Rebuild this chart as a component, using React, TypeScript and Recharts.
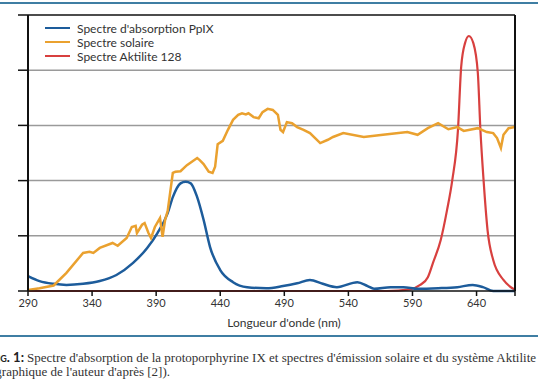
import React from "react";
import { LineChart, Line, XAxis, YAxis, ReferenceLine } from "recharts";

// wavelength (nm) / relative level
const solarNm = [290, 299, 310, 320, 333, 338, 341, 346, 356, 360, 367, 371, 374, 375, 379, 381, 384, 386, 389, 393, 395, 397, 399, 403, 405, 409, 414, 422, 424, 427, 431, 434, 436, 438, 442, 446, 450, 454, 457, 460, 462, 466, 470, 473, 477, 481, 485, 487, 489, 492, 496, 500, 505, 510, 518, 524, 528, 536, 552, 567, 586, 594, 602, 610, 618, 625, 630, 641, 648, 653, 656, 659, 661, 665, 670];
const solarLevel = [0.02, 0.05, 0.1, 0.33, 0.69, 0.71, 0.69, 0.78, 0.87, 0.82, 0.96, 1.16, 1.18, 1.05, 1.2, 1.23, 1.05, 0.96, 1.16, 1.32, 0.98, 1.29, 1.45, 2.14, 2.16, 2.17, 2.28, 2.41, 2.37, 2.3, 2.16, 2.14, 2.25, 2.66, 2.72, 2.92, 3.1, 3.19, 3.22, 3.2, 3.22, 3.15, 3.13, 3.24, 3.3, 3.28, 3.19, 2.92, 2.88, 3.06, 3.04, 2.97, 2.92, 2.86, 2.68, 2.74, 2.79, 2.86, 2.79, 2.83, 2.88, 2.83, 2.95, 3.04, 2.93, 2.97, 2.9, 2.95, 2.88, 2.86, 2.77, 2.59, 2.83, 2.95, 2.97];

const ppixNm = [290, 299, 310, 320, 333, 346, 359, 372, 383, 391, 399, 403, 409, 413, 417, 422, 427, 432, 440, 450, 461, 476, 489, 500, 510, 520, 531, 547, 555, 560, 573, 583, 594, 610, 625, 637, 645, 653, 670];
const ppixLevel = [0.27, 0.18, 0.13, 0.11, 0.13, 0.18, 0.29, 0.51, 0.78, 1.05, 1.41, 1.7, 1.95, 1.98, 1.95, 1.7, 1.29, 0.8, 0.38, 0.16, 0.07, 0.05, 0.09, 0.14, 0.2, 0.13, 0.07, 0.16, 0.09, 0.04, 0.07, 0.07, 0.04, 0.05, 0.07, 0.11, 0.07, 0.0, 0.0];

const aktNm = [290, 570, 588, 596, 602, 606, 612, 617, 621, 625.5, 628, 631, 634, 637.5, 641, 643, 645.5, 648.6, 653, 661, 670];
const aktLevel = [0, 0, 0.03, 0.11, 0.25, 0.51, 0.92, 1.47, 2.0, 2.92, 4.06, 4.49, 4.62, 4.49, 3.95, 2.92, 2.0, 1.1, 0.56, 0.2, 0.02];

const xTicks = [290, 340, 390, 440, 490, 540, 590, 640, 670];
const yTicks = [0, 1, 2, 3, 4, 5];
const gridLevels = [1, 2, 3, 4];

const legendItems = [
  { label: "Spectre d'absorption PpIX", color: "#1d5c9b" },
  { label: "Spectre solaire", color: "#eaa12f" },
  { label: "Spectre Aktilite 128", color: "#d8403f" },
];

const zip = (xs: number[], ys: number[]) => xs.map((nm, i) => ({ nm, v: ys[i] }));

const sans = "Lato, 'Open Sans', sans-serif";
const serif = "'Liberation Serif', serif";
const noLabel = () => "";

export default function App() {
  return (
    <div
      style={{
        position: "absolute",
        left: 0,
        top: 0,
        width: 538,
        height: 384,
        overflow: "hidden",
        background: "#fff",
      }}
    >
      {/* top rule */}
      <div style={{ position: "absolute", left: 0, top: 2, width: 538, height: 2, background: "#3f7ea3" }} />

      <LineChart
        width={538}
        height={316}
        margin={{ top: 15, right: 22, bottom: 0, left: 27 }}
        style={{ position: "absolute", left: 0, top: 0 }}
      >
        <XAxis
          dataKey="nm"
          type="number"
          domain={[290, 670]}
          ticks={xTicks}
          allowDataOverflow
          height={25}
          tickSize={5}
          tickMargin={3}
          axisLine={{ stroke: "#111", strokeWidth: 1.5 }}
          tickLine={{ stroke: "#111", strokeWidth: 1.5 }}
          tickFormatter={(v: number) => (v === 670 ? "" : String(v))}
          tick={{ fontFamily: sans, fontSize: 11, fill: "#333" }}
        />
        <YAxis
          yAxisId="left"
          domain={[0, 5]}
          ticks={yTicks}
          width={1}
          tickSize={10}
          tickFormatter={noLabel}
          axisLine={{ stroke: "#111", strokeWidth: 2 }}
          tickLine={{ stroke: "#111", strokeWidth: 1.5 }}
        />
        <YAxis
          yAxisId="right"
          orientation="right"
          domain={[0, 5]}
          ticks={yTicks}
          width={1}
          tickSize={9}
          tickFormatter={noLabel}
          axisLine={{ stroke: "#111", strokeWidth: 2 }}
          tickLine={{ stroke: "#111", strokeWidth: 1.5 }}
        />
        {/* horizontal grid */}
        {gridLevels.map((t) => (
          <ReferenceLine key={t} yAxisId="left" y={t} stroke="#9a9a9a" strokeWidth={1.5} />
        ))}
        <ReferenceLine yAxisId="left" y={5} stroke="#111" strokeWidth={1.5} />
        <Line
          data={zip(aktNm, aktLevel)}
          yAxisId="left"
          dataKey="v"
          type="monotone"
          stroke="#d8403f"
          strokeWidth={2.2}
          dot={false}
          isAnimationActive={false}
        />
        <Line
          data={zip(ppixNm, ppixLevel)}
          yAxisId="left"
          dataKey="v"
          type="monotone"
          stroke="#1d5c9b"
          strokeWidth={2.5}
          dot={false}
          isAnimationActive={false}
        />
        <Line
          data={zip(solarNm, solarLevel)}
          yAxisId="left"
          dataKey="v"
          type="linear"
          stroke="#eaa12f"
          strokeWidth={2.5}
          dot={false}
          isAnimationActive={false}
        />
      </LineChart>

      {/* legend */}
      <div style={{ position: "absolute", left: 45, top: 21, fontFamily: sans, fontSize: 12, color: "#333" }}>
        {legendItems.map((it) => (
          <div key={it.label} style={{ display: "flex", alignItems: "center", height: 14 }}>
            <span style={{ display: "inline-block", width: 25, height: 2, background: it.color, marginRight: 7 }} />
            <span>{it.label}</span>
          </div>
        ))}
      </div>

      {/* x axis title */}
      <div
        style={{
          position: "absolute",
          left: 184,
          width: 200,
          top: 315,
          textAlign: "center",
          fontFamily: sans,
          fontSize: 12,
          color: "#333",
        }}
      >
        Longueur d'onde (nm)
      </div>

      {/* separator */}
      <div style={{ position: "absolute", left: 0, top: 335, width: 538, height: 2, background: "#3f7ea3" }} />

      {/* caption */}
      <div
        style={{
          position: "absolute",
          left: 27,
          top: 350,
          whiteSpace: "nowrap",
          fontFamily: serif,
          fontSize: 13,
          lineHeight: "15px",
          color: "#333",
        }}
      >
        <span
          style={{
            position: "absolute",
            right: "100%",
            marginRight: 3,
            fontFamily: sans,
            fontWeight: 700,
            fontSize: 13,
            color: "#222",
          }}
        >
          <span style={{ fontVariant: "small-caps" }}>Fig.</span> 1:
        </span>
        Spectre d'absorption de la protoporphyrine IX et spectres d'émission solaire et du système Aktilite 128
      </div>
      <div
        style={{
          position: "absolute",
          left: -9,
          top: 364,
          whiteSpace: "nowrap",
          fontFamily: serif,
          fontSize: 13,
          lineHeight: "15px",
          color: "#333",
        }}
      >
        (graphique de l'auteur d'après [2]).
      </div>
    </div>
  );
}
